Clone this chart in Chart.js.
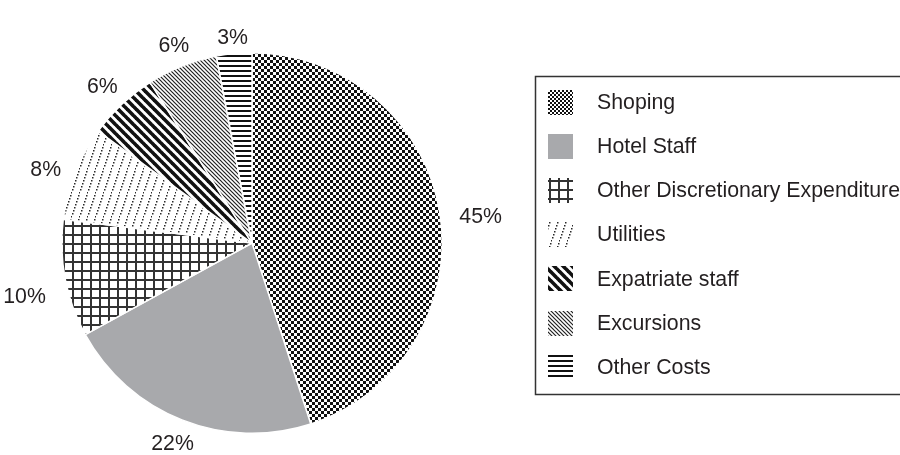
<!DOCTYPE html>
<html>
<head>
<meta charset="utf-8">
<script src="https://cdn.jsdelivr.net/npm/chart.js@4/dist/chart.umd.min.js"></script>
<style>
  html, body { margin: 0; padding: 0; background: #fff; }
  canvas { display: block; }
</style>
</head>
<body>
<canvas id="pie" width="900" height="455"></canvas>
<script>
// Share of spending by category (percent)
const categories = ['Shoping', 'Hotel Staff', 'Other Discretionary Expenditure', 'Utilities', 'Expatriate staff', 'Excursions', 'Other Costs'];
const shares = [45, 22, 10, 8, 6, 6, 3];

const INK = '#231f20';
const FONT = '21.3px "Liberation Sans", Arial, sans-serif';

// --- fill patterns -------------------------------------------------------
function tile(w, h, draw) {
  const c = document.createElement('canvas');
  c.width = w; c.height = h;
  const g = c.getContext('2d');
  g.fillStyle = '#fff';
  g.fillRect(0, 0, w, h);
  draw(g, w, h);
  return g.createPattern(c, 'repeat');
}
function checker(s) {
  return tile(2 * s, 2 * s, g => {
    g.fillStyle = '#111';
    g.fillRect(0, 0, s, s);
    g.fillRect(s, s, s, s);
  });
}
const solidGrey = '#a8a9ac';
const grid = tile(9, 9, g => {
  g.fillStyle = '#333';
  g.fillRect(0, 0, 9, 2);
  g.fillRect(0, 0, 2, 9);
});
const dotted = tile(8, 24, g => {
  g.fillStyle = '#2a2a2a';
  for (let k = 0; k < 8; k++) g.fillRect((7 - k + 8) % 8, k * 3, 1.5, 1.5);
});
function diag(p, lw, color) {
  return tile(p, p, g => {
    g.strokeStyle = color;
    g.lineWidth = lw;
    for (let o = -p; o <= p; o += p) {
      g.beginPath();
      g.moveTo(o - 1, -1);
      g.lineTo(o + p + 1, p + 1);
      g.stroke();
    }
  });
}
const thickDiag = diag(9, 3.6, '#111');
const thinDiag = diag(4, 1.2, '#222');
const hLines = tile(4, 5, g => {
  g.fillStyle = '#111';
  g.fillRect(0, 0, 4, 2);
});

const sliceFills = [checker(3), solidGrey, grid, dotted, thickDiag, thinDiag, hLines];
const iconFills = [checker(2), solidGrey, grid, dotted, thickDiag, thinDiag, hLines];

// --- percentage labels outside each slice ---------------------------------
const outsideLabels = {
  id: 'outsideLabels',
  afterDatasetsDraw(chart) {
    const ctx = chart.ctx;
    const meta = chart.getDatasetMeta(0);
    ctx.save();
    ctx.font = FONT;
    ctx.fillStyle = INK;
    ctx.textAlign = 'center';
    ctx.textBaseline = 'middle';
    meta.data.forEach((arc, i) => {
      const p = arc.getProps(['x', 'y', 'startAngle', 'endAngle', 'outerRadius'], true);
      const mid = (p.startAngle + p.endAngle) / 2;
      const dx = Math.cos(mid), dy = Math.sin(mid);
      const text = shares[i] + '%';
      const w = ctx.measureText(text).width;
      const h = 18;
      const d = p.outerRadius + 4 + Math.abs(dx) * w * 0.85 + Math.abs(dy) * h / 2;
      // side labels sit a little lower, level with the text's cap line
      const drop = Math.pow(Math.abs(dx), 3) * 11;
      ctx.fillText(text, p.x + dx * d, p.y + dy * d + drop);
    });
    ctx.restore();
  }
};

// --- boxed legend on the right --------------------------------------------
const boxedLegend = {
  id: 'boxedLegend',
  afterDraw(chart) {
    const ctx = chart.ctx;
    const left = 535.5, top = 76.5, bottom = 394.5;
    ctx.save();
    ctx.strokeStyle = '#333';
    ctx.lineWidth = 1.5;
    ctx.strokeRect(left, top, 900 - left + 10, bottom - top);
    ctx.font = FONT;
    ctx.fillStyle = INK;
    ctx.textBaseline = 'middle';
    const first = 102, step = 44.2, icon = 25;
    categories.forEach((name, i) => {
      const cy = first + i * step;
      ctx.fillStyle = iconFills[i];
      ctx.fillRect(548, Math.round(cy - icon / 2), icon, icon);
      ctx.fillStyle = INK;
      ctx.fillText(name, 597, cy + 1);
    });
    ctx.restore();
  }
};

new Chart(document.getElementById('pie'), {
  type: 'pie',
  data: {
    labels: categories,
    datasets: [{
      data: shares,
      backgroundColor: sliceFills,
      borderColor: '#fff',
      borderWidth: 1.5
    }]
  },
  options: {
    responsive: false,
    animation: false,
    layout: { padding: { left: 61, right: 457, top: 52, bottom: 21 } },
    plugins: {
      legend: { display: false },
      tooltip: { enabled: false }
    }
  },
  plugins: [outsideLabels, boxedLegend]
});
</script>
</body>
</html>
